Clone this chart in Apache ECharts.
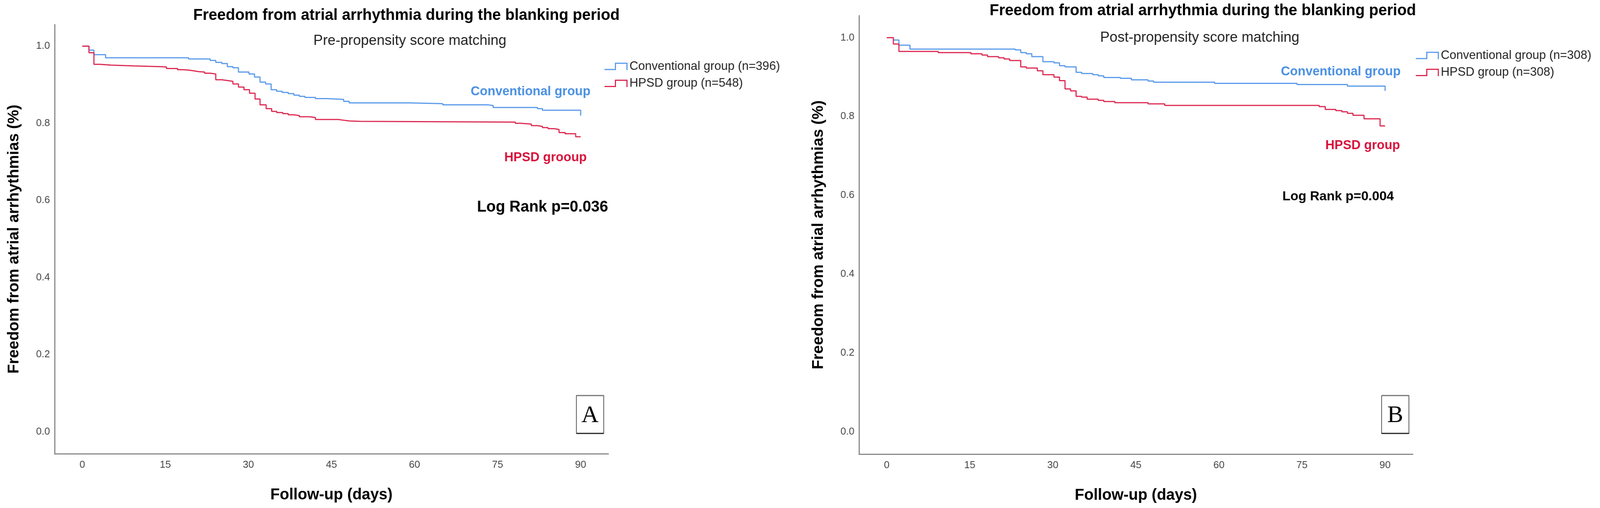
<!DOCTYPE html>
<html><head><meta charset="utf-8">
<script src="https://cdn.jsdelivr.net/npm/echarts@6/dist/echarts.min.js"></script>
<style>html,body{margin:0;padding:0;background:#fff;overflow:hidden}#c{width:4161px;height:1301px;transform-origin:0 0}</style>
</head><body><div id="c"></div><script>
// ---- data (days, survival) ----
const xTicks = [0, 15, 30, 45, 60, 75, 90];
const yTicks = [0.0, 0.2, 0.4, 0.6, 0.8, 1.0];

const convA_t = [0,1.2,2.1,4.2,19.2,23.1,24.1,25.2,26.2,27.2,28.2,30.1,31.1,32.1,33.1,34.1,35.1,36.1,37.2,38.2,39.2,40.2,42.1,44.1,47.2,48.2,59.1,65.1,73.2,74.2,82.2,83.1,90.0,90.0];
const convA_s = [1.0,0.990,0.978,0.970,0.967,0.963,0.958,0.955,0.947,0.944,0.933,0.928,0.920,0.907,0.902,0.887,0.883,0.880,0.877,0.873,0.870,0.867,0.864,0.862,0.857,0.853,0.851,0.848,0.846,0.841,0.838,0.834,0.834,0.820];

const hpsdA_t = [0,1.2,2.1,3.2,5.2,9.2,14.2,15.2,17.2,18.1,19.2,20.2,21.0,22.1,23.1,24.1,25.2,26.2,27.2,28.2,29.2,30.2,31.2,32.1,33.2,34.2,35.1,36.2,37.2,38.2,39.2,41.1,42.1,46.2,47.2,48.2,50.1,78.2,79.1,81.1,82.2,83.1,84.1,85.2,86.1,87.2,89.1,90.0];
const hpsdA_s = [1.0,0.983,0.953,0.951,0.949,0.947,0.946,0.942,0.939,0.938,0.936,0.934,0.933,0.930,0.928,0.913,0.911,0.909,0.902,0.894,0.887,0.878,0.863,0.848,0.838,0.831,0.828,0.825,0.822,0.820,0.817,0.815,0.810,0.808,0.806,0.805,0.803,0.800,0.798,0.794,0.792,0.789,0.786,0.784,0.776,0.773,0.765,0.765];

const convB_t = [0,1.2,2.2,4.2,23.2,24.2,25.2,26.2,28.2,30.2,31.2,32.2,34.2,35.2,37.2,38.2,39.2,42.2,44.2,47.2,48.2,59.2,74.1,83.2,90.0,90.0];
const convB_s = [1.0,0.994,0.981,0.971,0.969,0.962,0.959,0.952,0.939,0.936,0.929,0.926,0.912,0.909,0.906,0.903,0.899,0.897,0.893,0.890,0.887,0.884,0.881,0.877,0.877,0.865];

const hpsdB_t = [0,1.2,2.2,9.3,15.2,17.2,18.2,20.2,21.2,22.2,24.2,25.2,27.2,28.2,30.2,31.2,32.2,33.2,34.2,35.2,36.2,38.2,39.2,41.2,47.2,50.2,78.1,79.2,81.1,82.2,83.2,84.2,86.2,89.1,90.0];
const hpsdB_s = [1.0,0.984,0.965,0.962,0.959,0.956,0.952,0.949,0.946,0.942,0.926,0.923,0.916,0.906,0.900,0.891,0.870,0.865,0.851,0.849,0.844,0.841,0.838,0.835,0.832,0.828,0.825,0.818,0.815,0.812,0.808,0.803,0.794,0.776,0.776];

const seriesNames = ['Conventional group (n=396)', 'HPSD group (n=548)', 'Conventional group (n=308)', 'HPSD group (n=308)'];

// ---- map the 4161x1301 design onto the actual viewport ----
const W = 4161, H = 1301;
const el = document.getElementById('c');
const vw = window.innerWidth || W, vh = window.innerHeight || H;
const sx = vw / W, sy = vh / H;
if (Math.abs(sx - 1) > 0.001 || Math.abs(sy - 1) > 0.001) el.style.transform = 'scale(' + sx + ',' + sy + ')';

// ---- styling ----
const FONT = '"Liberation Sans", Arial, Helvetica, sans-serif';
const SERIF = '"Liberation Serif", "Times New Roman", serif';
const BLUE_LINE = '#5b9bea', RED_LINE = '#dc2a52';
const BLUE_TXT = '#4a90e2', RED_TXT = '#d7123b';
const ICON = 'path://M0,16 L27,16 L27,0 L60,0 L60,19 L57,19 L57,3 L30,3 L30,19 L0,19 Z';

function pairs(t, s) { return t.map((x, i) => [x, s[i]]); }

function xAx(gi) {
  return {
    type: 'value', gridIndex: gi, min: -5, max: 95,
    name: 'Follow-up (days)', nameLocation: 'middle', nameGap: 86,
    nameTextStyle: { fontFamily: FONT, fontWeight: 'bold', fontSize: 40, color: '#000' },
    axisLine: { show: true, onZero: false, lineStyle: { color: '#8a8a8a', width: 3 } },
    axisTick: { show: false }, splitLine: { show: false },
    axisLabel: { customValues: xTicks, fontFamily: FONT, fontSize: 26, color: '#444', margin: 16 }
  };
}
function yAx(gi) {
  return {
    type: 'value', gridIndex: gi, min: -0.057, max: 1.056,
    name: 'Freedom from atrial arrhythmias (%)', nameLocation: 'middle', nameGap: 85,
    nameTextStyle: { fontFamily: FONT, fontWeight: 'bold', fontSize: 40, color: '#000' },
    axisLine: { show: true, onZero: false, lineStyle: { color: '#8a8a8a', width: 3 } },
    axisTick: { show: false }, splitLine: { show: false },
    axisLabel: { customValues: yTicks, formatter: v => v.toFixed(1), fontFamily: FONT, fontSize: 26, color: '#444', margin: 12 }
  };
}
function ser(name, data, gi, color) {
  return {
    name, type: 'line', step: 'end', data, xAxisIndex: gi, yAxisIndex: gi,
    showSymbol: false, symbol: 'none', animation: false,
    lineStyle: { color, width: 3 }, itemStyle: { color }
  };
}
function txt(x, y, text, size, weight, fill, align, family) {
  return {
    type: 'text', x, y, silent: true,
    style: {
      text, fill, align: align || 'left', verticalAlign: 'middle',
      textAlign: align || 'left', textVerticalAlign: 'middle',
      font: (weight || 'normal') + ' ' + size + 'px ' + (family || FONT)
    }
  };
}
function panelBox(x, y, w, h, letter) {
  return [
    { type: 'rect', shape: { x, y, width: w, height: h }, style: { fill: '#fff', stroke: '#222', lineWidth: 1.5 } },
    { type: 'line', shape: { x1: x, y1: y, x2: x + w, y2: y }, style: { stroke: '#777', lineWidth: 3 } },
    { type: 'line', shape: { x1: x, y1: y + h, x2: x + w, y2: y + h }, style: { stroke: '#222', lineWidth: 3 } },
    txt(x + w / 2, y + h / 2 + 3, letter, 62, 'normal', '#000', 'center', SERIF)
  ];
}
function legend(names, left, top) {
  return {
    data: names, orient: 'vertical', left, top, padding: 0,
    itemWidth: 60, itemHeight: 19, itemGap: 11.5, icon: ICON,
    itemStyle: { borderWidth: 0 },
    textStyle: { fontFamily: FONT, fontSize: 31.5, color: '#222' }
  };
}

const chart = echarts.init(el, null, { renderer: 'canvas', width: W, height: H });
chart.setOption({
  backgroundColor: '#fff',
  animation: false,
  grid: [
    { left: 142, top: 63, width: 1440, height: 1099 },
    { left: 2234, top: 40, width: 1440, height: 1123 }
  ],
  xAxis: [xAx(0), xAx(1)],
  yAxis: [yAx(0), yAx(1)],
  legend: [
    legend([seriesNames[0], seriesNames[1]], 1572, 154),
    legend([seriesNames[2], seriesNames[3]], 3682, 126)
  ],
  series: [
    ser(seriesNames[0], pairs(convA_t, convA_s), 0, BLUE_LINE),
    ser(seriesNames[1], pairs(hpsdA_t, hpsdA_s), 0, RED_LINE),
    ser(seriesNames[2], pairs(convB_t, convB_s), 1, BLUE_LINE),
    ser(seriesNames[3], pairs(hpsdB_t, hpsdB_s), 1, RED_LINE)
  ],
  graphic: [
    txt(1057, 40, 'Freedom from atrial arrhythmia during the blanking period', 40, 'bold', '#000', 'center'),
    txt(1066, 105, 'Pre-propensity score matching', 37, 'normal', '#222', 'center'),
    txt(3128, 28, 'Freedom from atrial arrhythmia during the blanking period', 40, 'bold', '#000', 'center'),
    txt(3120, 97, 'Post-propensity score matching', 37, 'normal', '#222', 'center'),
    txt(1224, 235, 'Conventional group', 33, 'bold', BLUE_TXT, 'left'),
    txt(1526, 404, 'HPSD grooup', 33, 'bold', RED_TXT, 'right'),
    txt(1411, 531, 'Log Rank p=0.036', 40, 'bold', '#000', 'center'),
    txt(3331, 184, 'Conventional group', 33, 'bold', BLUE_TXT, 'left'),
    txt(3641, 373, 'HPSD group', 33, 'bold', RED_TXT, 'right'),
    txt(3480, 504, 'Log Rank p=0.004', 34, 'bold', '#000', 'center')
  ].concat(panelBox(1499, 1013, 71, 97, 'A'), panelBox(3593, 1013, 71, 97, 'B'))
});
</script></body></html>
